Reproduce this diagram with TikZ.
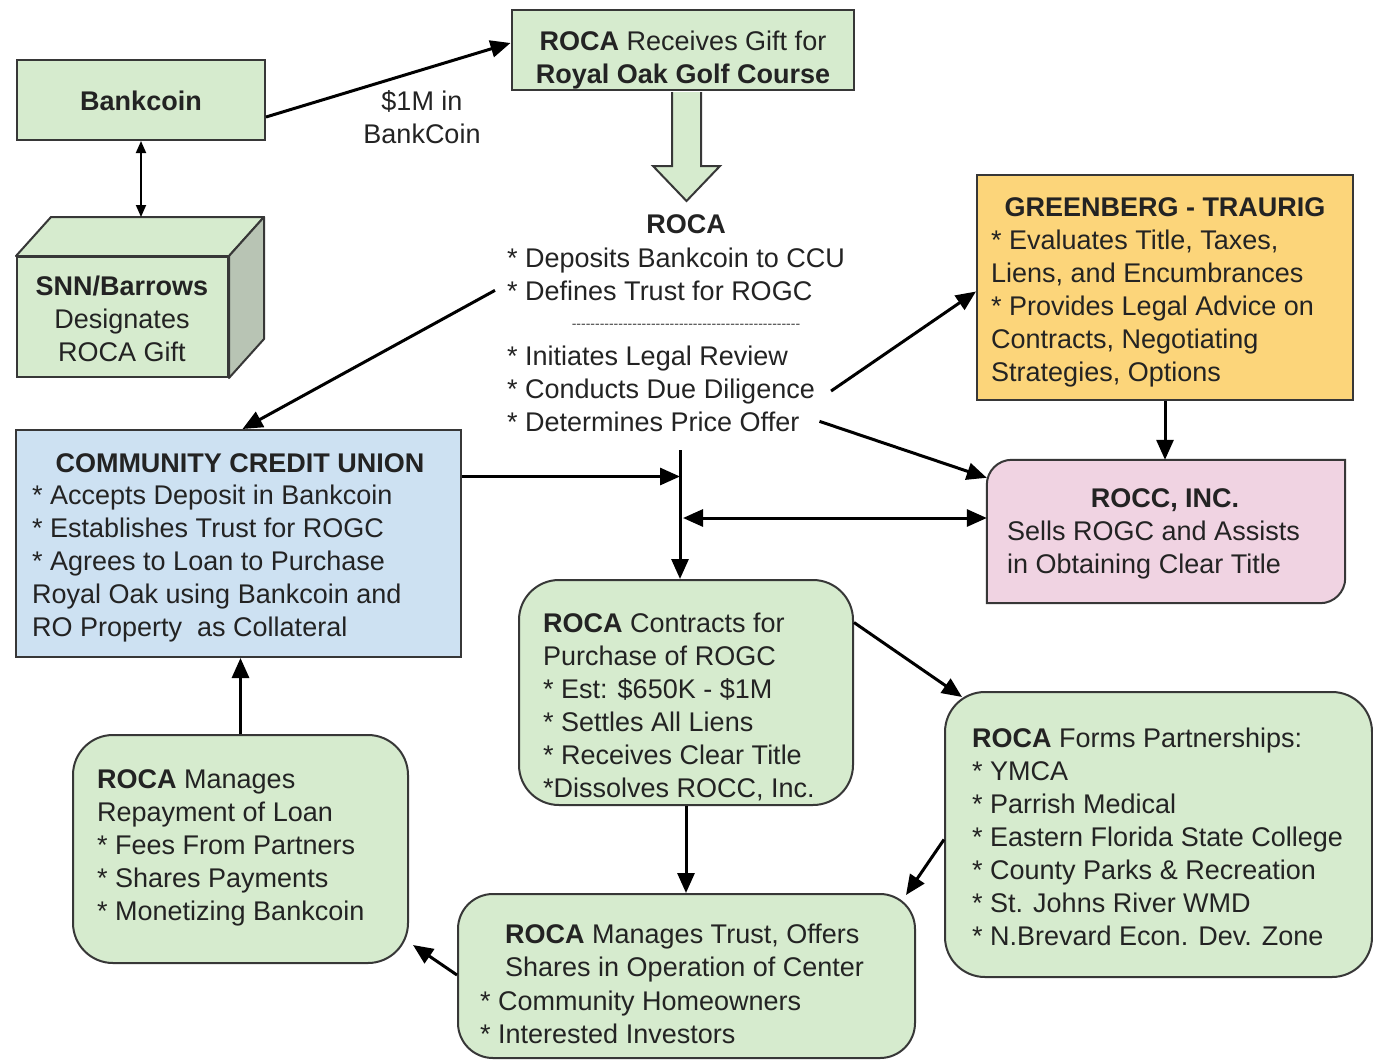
\documentclass[tikz,border=0pt]{standalone}
\usepackage{fontspec}
\setmainfont{Liberation Sans}
\usetikzlibrary{arrows.meta,calc}
\definecolor{gfill}{RGB}{214,235,206}
\definecolor{gside}{RGB}{184,196,180}
\definecolor{bfill}{RGB}{205,225,242}
\definecolor{yfill}{RGB}{252,213,122}
\definecolor{pfill}{RGB}{240,211,226}
\definecolor{bordc}{RGB}{55,55,55}
\definecolor{txtc}{RGB}{35,35,35}
\newcommand\fs{\fontsize{27}{33}\selectfont}
\newcommand\hy{-\kern0pt\relax}
\begin{document}
\begin{tikzpicture}[x=1pt,y=1pt,
  boxbase/.style={draw=bordc, line width=2pt, inner sep=0pt},
  gbox/.style={boxbase, fill=gfill},
  grbox/.style={boxbase, fill=gfill, rounded corners=40pt},
  bbox/.style={boxbase, fill=bfill},
  ybox/.style={boxbase, fill=yfill},
  pshape/.style={draw=bordc, line width=2pt, fill=pfill},
  txt/.style={inner sep=0pt, font=\fs, text=txtc},
  tl/.style={txt, anchor=north west, align=left},
  tc/.style={txt, anchor=north, align=center},
  tb/.style={txt, anchor=base},
  tbw/.style={txt, anchor=base west},
  arr/.style={draw=black, line width=3pt, -{Triangle[length=20pt,width=17pt]}},
  darr/.style={draw=black, line width=3pt, {Triangle[length=20pt,width=17pt]}-{Triangle[length=20pt,width=17pt]}},
  tarr/.style={draw=black, line width=1.8pt, {Triangle[length=12pt,width=10pt]}-{Triangle[length=12pt,width=10pt]}}
]
\useasboundingbox[fill=white] (0,0) rectangle (1373,-1060);

% ---------- boxes ----------
\node[gbox, minimum width=248pt, minimum height=80pt] (bank) at (141,-100) {};
\node[txt, anchor=base] (bankT) at (141,-110) {\textbf{Bankcoin}};

% cube
\node[gbox, minimum width=211pt, minimum height=120pt] (cube) at (122.5,-317) {};
\coordinate (cbk) at ($(cube.north)+(35,39)$);
\draw[line width=2pt, draw=bordc, fill=gfill, line join=round]
  (cube.north west) -- ($(cube.north west)+(35,39)$) -- ($(cube.north east)+(35,39)$) -- (cube.north east) -- cycle;
\draw[line width=2pt, draw=bordc, fill=gside, line join=round]
  (cube.north east) -- ($(cube.north east)+(35,39)$) -- ($(cube.south east)+(35,39)$) -- (cube.south east) -- cycle;
\node[tc] (cubeT) at (122,-271.9) {\strut\textbf{SNN/Barrows}\\Designates\\ROCA Gift};

% gift + hollow arrow
\node[gbox, minimum width=342pt, minimum height=80pt] (gift) at (682.5,-50) {};
\draw[line width=2pt, draw=bordc, fill=gfill, line join=miter]
  ($(gift.south)+(-10.5,-1)$) -- ($(gift.south)+(-10.5,-75)$) -- ($(gift.south)+(-29.5,-75)$)
  -- ($(gift.south)+(4,-110)$) -- ($(gift.south)+(37.5,-75)$) -- ($(gift.south)+(18.5,-75)$)
  -- ($(gift.south)+(18.5,-1)$);
\node[tc] (giftT) at (683,-26.9) {\strut\textbf{ROCA} Receives Gift for\\\textbf{Royal Oak Golf Course}};

\node[tc] (amtT) at (422,-86.9) {\strut\$1M in\\BankCoin};

% ROCA text block
\node[tb] (rocaT) at (686,-233) {\textbf{ROCA}};
\node[tbw] (r1) at (507,-267) {* Deposits Bankcoin to CCU};
\node[tbw] (r2) at (507,-300) {* Defines Trust for ROGC};
\node[txt, anchor=base, font=\fontsize{14}{14}\selectfont, text=black!75] (rdash) at (686,-328) {\foreach \k in {1,...,49}{\hy}};
\node[tbw] (r3) at (507,-365) {* Initiates Legal Review};
\node[tbw] (r4) at (507,-398) {* Conducts Due Diligence};
\node[tbw] (r5) at (507,-431) {* Determines Price Offer};

% Greenberg
\node[ybox, minimum width=376pt, minimum height=225pt] (gt) at (1165,-287.5) {};
\node[tb] (gtT1) at (1165,-216) {\textbf{GREENBERG - TRAURIG}};
\node[tl] (gtT2) at (991,-225.9) {\strut* Evaluates Title, Taxes,\\Liens, and Encumbrances\\{*} Provides Legal Advice on\\Contracts, Negotiating\\Strategies, Options};

% ROCC
\node[inner sep=0pt, minimum width=358pt, minimum height=143pt] (rocc) at (1166,-531.5) {};
\draw[pshape] (rocc.south west) -- ([yshift=-25pt]rocc.north west) arc[start angle=180, end angle=90, radius=25pt]
  -- (rocc.north east) -- ([yshift=25pt]rocc.south east) arc[start angle=0, end angle=-90, radius=25pt] -- cycle;
\node[tb] (roccT1) at (1165,-507) {\textbf{ROCC, INC.}};
\node[tl] (roccT2) at (1007,-516.9) {\strut Sells ROGC and Assists\\in Obtaining Clear Title};

% CCU
\node[bbox, minimum width=445pt, minimum height=227pt] (ccu) at (238.5,-543.5) {};
\node[tb] (ccuT1) at (240,-472) {\textbf{COMMUNITY CREDIT UNION}};
\node[tl] (ccuT2) at (32,-480.9) {\strut* Accepts Deposit in Bankcoin\\{*} Establishes Trust for ROGC\\{*} Agrees to Loan to Purchase\\Royal Oak using Bankcoin and\\RO Property\ \ as Collateral};

% Contracts
\node[grbox, minimum width=334pt, minimum height=225pt] (con) at (686,-692.5) {};
\node[tl] (conT) at (543,-608.9) {\strut\textbf{ROCA} Contracts for\\Purchase of ROGC\\{*} Est: \$650K - \$1M\\{*} Settles All Liens\\{*} Receives Clear Title\\{*}Dissolves ROCC, Inc.};

% Partnerships
\node[grbox, minimum width=427pt, minimum height=285pt] (par) at (1158.5,-834.5) {};
\node[tl] (parT) at (972,-723.9) {\strut\textbf{ROCA} Forms Partnerships:\\{*} YMCA\\{*} Parrish Medical\\{*} Eastern Florida State College\\{*} County Parks \& Recreation\\{*} St. Johns River WMD\\{*} N.Brevard Econ. Dev. Zone};

% Trust
\node[grbox, rounded corners=35pt, minimum width=457pt, minimum height=164pt] (trust) at (686.5,-976) {};
\node[tl] (trT1) at (505,-919.9) {\strut\textbf{ROCA} Manages Trust, Offers\\Shares in Operation of Center};
\node[tl] (trT2) at (480,-986.9) {\strut* Community Homeowners\\{*} Interested Investors};

% Repayment
\node[grbox, minimum width=335pt, minimum height=228pt] (rep) at (240.5,-849) {};
\node[tl] (repT) at (97,-764.9) {\strut\textbf{ROCA} Manages\\Repayment of Loan\\{*} Fees From Partners\\{*} Shares Payments\\{*} Monetizing Bankcoin};

% ---------- connectors ----------
\draw[arr] ([yshift=-17]bank.east) -- ([yshift=7]gift.west);
\draw[tarr] (bank.south) -- (bank.south |- cbk);
\draw[arr] ([xshift=-12]r2.west) -- ([xshift=4]ccu.north);
\draw[arr] ([xshift=16]r4.east) -- ([yshift=-4]gt.west);
\draw[arr] ([xshift=20]r5.east) -- ([yshift=-18]rocc.north west);
\draw[arr] (gt.south) -- (gt.south |- rocc.north);
\coordinate (jtop) at (680,-450);
\draw[arr] (jtop) -- (jtop |- con.north);
\coordinate (ccuout) at ([yshift=67]ccu.east);
\draw[arr] (ccuout) -- (jtop |- ccuout);
\coordinate (jmid) at (683,-518);
\draw[darr] (jmid) -- (jmid -| rocc.west);
\draw[arr] ([yshift=70]con.east) -- ([xshift=18,yshift=-6]par.north west);
\draw[arr] (con.south) -- (con.south |- trust.north);
\draw[arr] ([yshift=-5]par.west) -- ([xshift=-10,yshift=-2]trust.north east);
\draw[arr] ([yshift=1]trust.west) -- ([xshift=4,yshift=-96]rep.east);
\draw[arr] (rep.north) -- (rep.north |- ccu.south);
\end{tikzpicture}
\end{document}
